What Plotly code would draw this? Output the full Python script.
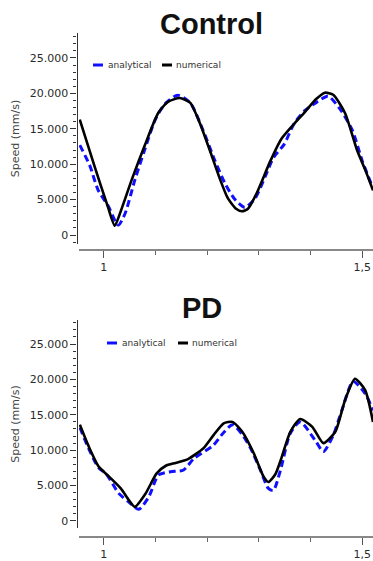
import plotly.graph_objects as go

# ---------------- data ----------------
ctrl_t_ana = [0.9535, 0.9729, 0.989, 1.0078, 1.028, 1.041, 1.060, 1.079, 1.099, 1.118, 1.143, 1.167,
              1.192, 1.215, 1.2345, 1.254, 1.273, 1.293, 1.312, 1.329, 1.349, 1.368, 1.3895, 1.413,
              1.434, 1.457, 1.481, 1.500, 1.521]
ctrl_v_ana = [12700, 9800, 6350, 4200, 1400, 3000, 7750, 12000, 16200, 18500, 19750, 18700,
              14800, 10500, 7300, 5000, 3900, 5200, 8200, 11000, 12800, 15700, 17600, 18800,
              19600, 17800, 14800, 10500, 6600]

ctrl_t_num = [0.9535, 0.9826, 1.0078, 1.0213, 1.033, 1.055, 1.079, 1.105, 1.124, 1.147,
              1.167, 1.186, 1.205, 1.2248, 1.240, 1.256, 1.2674, 1.279, 1.2965, 1.322, 1.343, 1.366,
              1.3895, 1.411, 1.428, 1.444, 1.467, 1.490, 1.506, 1.521]
ctrl_v_num = [16300, 9600, 4000, 1300, 3400, 8000, 12600, 17200, 18800, 19350,
              18700, 15800, 12000, 7900, 5200, 3700, 3350, 3700, 6000, 10400, 13500, 15500,
              17400, 19200, 20100, 19800, 17200, 12000, 9200, 6300]

pd_t_num = [0.9537, 0.971, 0.990, 1.0097, 1.0328, 1.048, 1.060, 1.081, 1.102, 1.120, 1.139, 1.162,
            1.193, 1.212, 1.232, 1.249, 1.268, 1.290, 1.309, 1.3185, 1.332, 1.342, 1.361, 1.380,
            1.4035, 1.425, 1.448, 1.467, 1.486, 1.5058, 1.521]
pd_v_num = [13600, 10500, 7700, 6300, 4600, 3000, 2000, 3900, 6700, 7800, 8200, 8700,
            10300, 12100, 13800, 14000, 12600, 9600, 6300, 5500, 6600, 8500, 12600, 14400,
            13300, 11000, 12600, 17100, 20100, 18500, 14000]

pd_t_ana = [0.9537, 0.971, 0.990, 1.004, 1.029, 1.048, 1.0676, 1.087, 1.106, 1.129, 1.1544, 1.174,
            1.212, 1.232, 1.249, 1.268, 1.284, 1.303, 1.3185, 1.328, 1.342, 1.361, 1.380, 1.409,
            1.425, 1.444, 1.461, 1.4826, 1.5058, 1.521]
pd_v_ana = [13200, 10200, 7500, 6700, 3900, 2700, 1650, 3400, 6500, 6950, 7200, 8800,
            10700, 12500, 13600, 12200, 10300, 7200, 4600, 4300, 7200, 12400, 14000, 11400,
            9800, 12100, 15700, 19700, 18000, 15600]

titles = ["Control", "PD"]
series_names = ["analytical", "numerical"]
y_tick_vals = [0, 5000, 10000, 15000, 20000, 25000]
y_tick_text = ["0", "5.000", "10.000", "15.000", "20.000", "25.000"]
x_tick_vals = [1, 1.5]
x_tick_text = ["1", "1,5"]
y_title = "Speed (mm/s)"

# ---------------- figure ----------------
W, H = 373, 561
BLUE = "#1010ff"

def px(x):
    return x / W

def py(y):
    return 1 - y / H

fig = go.Figure()

panels = [
    dict(ta=ctrl_t_ana, va=ctrl_v_ana, tn=ctrl_t_num, vn=ctrl_v_num, xa="x", ya="y"),
    dict(ta=pd_t_ana, va=pd_v_ana, tn=pd_t_num, vn=pd_v_num, xa="x2", ya="y2"),
]
for p in panels:
    fig.add_trace(go.Scatter(x=p["ta"], y=p["va"], mode="lines", name=series_names[0],
                             line=dict(color=BLUE, width=3, dash="7px,4px", shape="spline", smoothing=0.7),
                             xaxis=p["xa"], yaxis=p["ya"], showlegend=False))
    fig.add_trace(go.Scatter(x=p["tn"], y=p["vn"], mode="lines", name=series_names[1],
                             line=dict(color="black", width=2.6, shape="spline", smoothing=0.6),
                             xaxis=p["xa"], yaxis=p["ya"], showlegend=False))

tickfont = dict(family="DejaVu Sans", size=11, color="#2a2a2a")

def yaxis_cfg(dom, rng):
    return dict(domain=dom, range=rng, anchor="free", position=px(76.5),
                showline=True, linecolor="#333", linewidth=1.2,
                showgrid=False, zeroline=False,
                tickmode="array", tickvals=y_tick_vals, ticktext=y_tick_text,
                ticks="outside", ticklen=6, tickcolor="#333", tickwidth=1,
                tickfont=tickfont,
                minor=dict(dtick=1000, ticks="outside", ticklen=3, tickcolor="#333", showgrid=False),
                title=dict(text=y_title, font=dict(family="DejaVu Sans", size=11, color="#444"), standoff=6))

def xaxis_cfg(pos):
    return dict(domain=[px(79), 1], range=[0.952, 1.521], anchor="free", position=pos,
                showline=True, linecolor="#888", linewidth=2,
                showgrid=False, zeroline=False,
                tickmode="array", tickvals=x_tick_vals, ticktext=x_tick_text,
                ticks="outside", ticklen=7, tickcolor="#555", tickwidth=1,
                tickfont=tickfont,
                minor=dict(dtick=0.1, tick0=1, ticks="outside", ticklen=4, tickcolor="#666", showgrid=False))

fig.update_layout(
    width=W, height=H,
    margin=dict(l=0, r=0, t=0, b=0),
    paper_bgcolor="white", plot_bgcolor="white",
    showlegend=False,
    xaxis=xaxis_cfg(py(250)),
    yaxis=yaxis_cfg([py(244), py(33)], [-1270, 28530]),
    xaxis2=xaxis_cfg(py(537)),
    yaxis2=yaxis_cfg([py(528), py(320)], [-990, 28390]),
)

annotations = []
shapes = []
# titles
for txt, cx, cy in [(titles[0], 211, 24), (titles[1], 201.5, 308)]:
    annotations.append(dict(text=txt, x=px(cx), y=py(cy), xref="paper", yref="paper",
                            xanchor="center", yanchor="middle", showarrow=False,
                            font=dict(family="Liberation Sans", size=29, color="#111", weight="bold")))
# legends (drawn manually)
for (bx, tx1, kx, tx2, ly) in [(93, 106, 162, 174, 65), (107, 120, 178, 190, 343)]:
    shapes.append(dict(type="line", xref="paper", yref="paper", x0=px(bx), x1=px(bx + 10),
                       y0=py(ly), y1=py(ly), line=dict(color=BLUE, width=3)))
    shapes.append(dict(type="line", xref="paper", yref="paper", x0=px(kx), x1=px(kx + 10),
                       y0=py(ly), y1=py(ly), line=dict(color="black", width=3)))
    annotations.append(dict(text=series_names[0], x=px(tx1), y=py(ly), xref="paper", yref="paper",
                            xanchor="left", yanchor="middle", showarrow=False,
                            font=dict(family="DejaVu Sans", size=9, color="#333")))
    annotations.append(dict(text=series_names[1], x=px(tx2), y=py(ly), xref="paper", yref="paper",
                            xanchor="left", yanchor="middle", showarrow=False,
                            font=dict(family="DejaVu Sans", size=9, color="#333")))

fig.update_layout(annotations=annotations, shapes=shapes)

fig.write_html("out.html")
